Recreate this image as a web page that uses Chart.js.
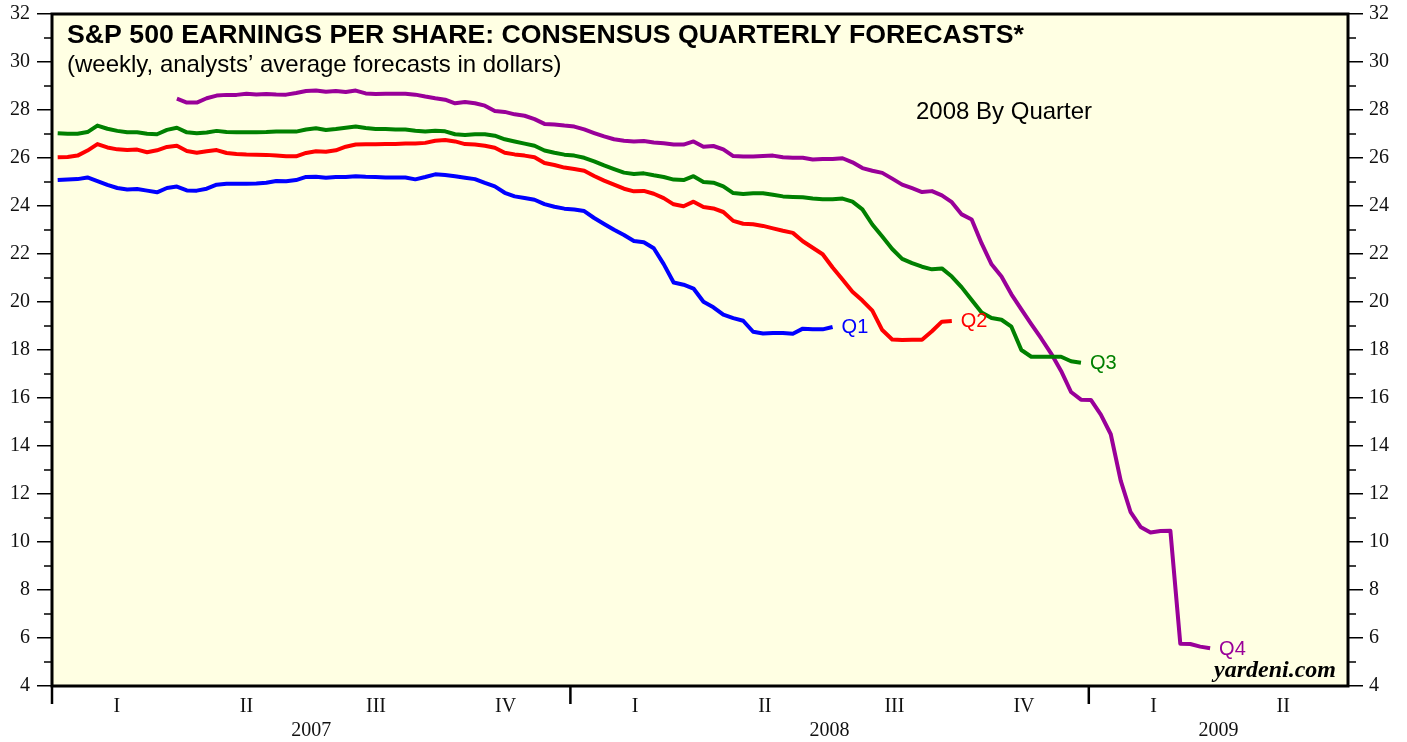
<!DOCTYPE html>
<html>
<head>
<meta charset="utf-8">
<script src="https://cdn.jsdelivr.net/npm/chart.js@4.4.0/dist/chart.umd.min.js"></script>
<style>
  html, body { margin: 0; padding: 0; background: #fff; }
</style>
</head>
<body>
<canvas id="epsChart" width="1407" height="742"></canvas>
<script>
// weekly consensus forecasts, dollars per share
const weeksPerYear = 52.18;
const firstWeek = 4 / 7;        // first Friday of Jan 2007
const q4FirstWeek = firstWeek + 12;

const q1 = [
  25.08, 25.10, 25.12, 25.19, 25.04, 24.88, 24.75, 24.69, 24.71, 24.64,
  24.57, 24.75, 24.81, 24.65, 24.64, 24.72, 24.89, 24.93, 24.93, 24.93,
  24.94, 24.97, 25.04, 25.03, 25.08, 25.21, 25.22, 25.18, 25.21, 25.21,
  25.24, 25.22, 25.21, 25.19, 25.19, 25.19, 25.11, 25.21, 25.32, 25.29,
  25.24, 25.18, 25.12, 24.96, 24.82, 24.55, 24.40, 24.33, 24.26, 24.08,
  23.97, 23.89, 23.85, 23.79, 23.50, 23.25, 23.01, 22.79, 22.54, 22.49,
  22.24, 21.58, 20.81, 20.72, 20.56, 20.01, 19.78, 19.47, 19.33, 19.22,
  18.76, 18.69, 18.71, 18.71, 18.68, 18.89, 18.86, 18.86, 18.96
];
const q2 = [
  26.03, 26.04, 26.10, 26.31, 26.58, 26.44, 26.36, 26.33, 26.35, 26.24,
  26.32, 26.46, 26.51, 26.29, 26.22, 26.28, 26.33, 26.21, 26.17, 26.15,
  26.14, 26.13, 26.10, 26.07, 26.07, 26.21, 26.28, 26.26, 26.32, 26.47,
  26.56, 26.57, 26.57, 26.58, 26.58, 26.60, 26.60, 26.63, 26.72, 26.75,
  26.69, 26.58, 26.56, 26.51, 26.43, 26.22, 26.15, 26.10, 26.03, 25.79,
  25.71, 25.60, 25.54, 25.47, 25.25, 25.06, 24.89, 24.72, 24.61, 24.63,
  24.51, 24.33, 24.07, 23.99, 24.18, 23.96, 23.90, 23.75, 23.38, 23.26,
  23.24, 23.17, 23.07, 22.97, 22.88, 22.53, 22.26, 21.99, 21.44, 20.94,
  20.43, 20.06, 19.64, 18.83, 18.44, 18.42, 18.43, 18.43, 18.78, 19.18,
  19.21
];
const q3 = [
  27.03, 27.01, 27.01, 27.08, 27.35, 27.22, 27.13, 27.07, 27.07, 27.01,
  26.99, 27.17, 27.26, 27.07, 27.03, 27.06, 27.13, 27.08, 27.07, 27.07,
  27.07, 27.08, 27.10, 27.10, 27.10, 27.19, 27.24, 27.17, 27.21, 27.26,
  27.31, 27.25, 27.21, 27.21, 27.19, 27.19, 27.14, 27.10, 27.14, 27.11,
  26.99, 26.96, 26.99, 26.99, 26.93, 26.78, 26.69, 26.60, 26.51, 26.31,
  26.22, 26.14, 26.10, 26.01, 25.86, 25.69, 25.54, 25.39, 25.33, 25.36,
  25.28, 25.21, 25.10, 25.08, 25.24, 25.00, 24.97, 24.82, 24.54, 24.50,
  24.53, 24.53, 24.47, 24.40, 24.38, 24.36, 24.31, 24.28, 24.28, 24.31,
  24.18, 23.86, 23.23, 22.73, 22.21, 21.80, 21.62, 21.47, 21.36, 21.40,
  21.06, 20.61, 20.08, 19.56, 19.33, 19.26, 18.97, 18.00, 17.72, 17.72,
  17.72, 17.72, 17.53, 17.47
];
const q4 = [
  28.47, 28.31, 28.31, 28.49, 28.60, 28.63, 28.63, 28.68, 28.65, 28.67,
  28.65, 28.64, 28.71, 28.79, 28.81, 28.76, 28.79, 28.75, 28.81, 28.69,
  28.67, 28.68, 28.68, 28.68, 28.64, 28.56, 28.49, 28.43, 28.28, 28.33,
  28.28, 28.18, 27.96, 27.92, 27.82, 27.76, 27.62, 27.42, 27.40, 27.35,
  27.31, 27.19, 27.04, 26.90, 26.78, 26.72, 26.69, 26.71, 26.65, 26.61,
  26.56, 26.56, 26.69, 26.47, 26.50, 26.36, 26.08, 26.06, 26.06, 26.08,
  26.10, 26.03, 26.01, 26.01, 25.94, 25.96, 25.96, 25.99, 25.82, 25.58,
  25.47, 25.38, 25.14, 24.89, 24.74, 24.58, 24.62, 24.44, 24.16, 23.65,
  23.44, 22.44, 21.57, 21.06, 20.32, 19.69, 19.08, 18.48, 17.85, 17.13,
  16.25, 15.93, 15.92, 15.31, 14.49, 12.56, 11.24, 10.63, 10.40, 10.46,
  10.47, 5.76, 5.75, 5.64, 5.57
];

const seriesNames = ['Q1', 'Q2', 'Q3', 'Q4'];
const seriesColors = ['#0000ff', '#ff0000', '#008000', '#990099'];
const quarterLabels = ['I', 'II', 'III', 'IV', 'I', 'II', 'III', 'IV', 'I', 'II'];
const yearLabels = ['2007', '2008', '2009'];
const yearTickWeeks = [0, weeksPerYear, 2 * weeksPerYear];
const yearLabelWeeks = [weeksPerYear / 2, weeksPerYear * 1.5, weeksPerYear * 2.25];

const toPoints = (arr, start) => arr.map((v, i) => ({ x: start + i, y: v }));

// x axis label ticks: quarter midpoints, plus year labels on a second line
const qw = weeksPerYear / 4;
const xTickLabels = new Map();
quarterLabels.forEach((q, i) => xTickLabels.set(+((i + 0.5) * qw).toFixed(3), q));
yearLabels.forEach((y, i) => xTickLabels.set(+yearLabelWeeks[i].toFixed(3), ['', y]));
const xTickValues = [...xTickLabels.keys()].sort((a, b) => a - b);

const BG = '#ffffe3';

const decor = {
  id: 'decor',
  beforeDraw(chart) {
    const { ctx, chartArea: a } = chart;
    ctx.save();
    ctx.fillStyle = '#fff';
    ctx.fillRect(0, 0, chart.width, chart.height);
    ctx.fillStyle = BG;
    ctx.fillRect(a.left, a.top, a.right - a.left, a.bottom - a.top);
    ctx.restore();
  },
  afterDatasetsDraw(chart) {
    const { ctx, chartArea: a, scales } = chart;
    ctx.save();

    // end-of-line labels
    ctx.font = '20px "Liberation Sans", Arial, sans-serif';
    ctx.textBaseline = 'middle';
    ctx.textAlign = 'left';
    chart.data.datasets.forEach((ds, i) => {
      const pts = chart.getDatasetMeta(i).data;
      const last = pts[pts.length - 1];
      ctx.fillStyle = seriesColors[i];
      ctx.fillText(seriesNames[i], last.x + 9, last.y + 1);
    });

    // titles
    ctx.fillStyle = '#000';
    ctx.textBaseline = 'alphabetic';
    ctx.font = 'bold 26.7px "Liberation Sans", Arial, sans-serif';
    ctx.fillText('S&P 500 EARNINGS PER SHARE: CONSENSUS QUARTERLY FORECASTS*', a.left + 15, 43);
    ctx.font = '24px "Liberation Sans", Arial, sans-serif';
    ctx.fillText('(weekly, analysts\u2019 average forecasts in dollars)', a.left + 15, 72);
    ctx.fillText('2008 By Quarter', 916, 119);
    ctx.font = 'italic bold 24px "Liberation Serif", "Times New Roman", serif';
    ctx.textAlign = 'right';
    ctx.fillText('yardeni.com', a.right - 12, 677);

    // frame
    ctx.strokeStyle = '#000';
    ctx.lineWidth = 3;
    ctx.strokeRect(a.left, a.top, a.right - a.left, a.bottom - a.top);

    // year separators below the x axis
    ctx.lineWidth = 2.5;
    yearTickWeeks.forEach(w => {
      const x = scales.x.getPixelForValue(w);
      ctx.beginPath();
      ctx.moveTo(x, a.bottom);
      ctx.lineTo(x, a.bottom + 18);
      ctx.stroke();
    });

    // minor ticks on both value axes
    ctx.lineWidth = 1.5;
    for (let v = 5; v < 32; v += 2) {
      const y = scales.y.getPixelForValue(v);
      ctx.beginPath();
      ctx.moveTo(a.left - 8, y);
      ctx.lineTo(a.left, y);
      ctx.moveTo(a.right, y);
      ctx.lineTo(a.right + 8, y);
      ctx.stroke();
    }
    ctx.restore();
  }
};

const yAxis = (position, width, pad) => ({
  position: position,
  min: 4,
  max: 32,
  border: { display: false },
  grid: { drawOnChartArea: false, drawTicks: true, tickLength: 15, color: '#000', lineWidth: 1.5 },
  ticks: {
    stepSize: 2,
    padding: pad,
    color: '#111',
    font: { family: '"Liberation Serif", "Times New Roman", serif', size: 20 }
  },
  afterFit: s => { s.width = width; s.paddingTop = 0; s.paddingBottom = 0; }
});

const ctx = document.getElementById('epsChart').getContext('2d');
const epsChart = new Chart(ctx, {
  type: 'line',
  data: {
    datasets: [
      { label: 'Q1', data: toPoints(q1, firstWeek) },
      { label: 'Q2', data: toPoints(q2, firstWeek) },
      { label: 'Q3', data: toPoints(q3, firstWeek) },
      { label: 'Q4', data: toPoints(q4, q4FirstWeek) }
    ].map((ds, i) => ({
      ...ds,
      borderColor: seriesColors[i],
      backgroundColor: seriesColors[i],
      borderWidth: 4,
      pointRadius: 0,
      tension: 0,
      borderJoinStyle: 'round',
      fill: false
    }))
  },
  options: {
    responsive: false,
    animation: false,
    layout: { padding: { top: 14, left: 0, right: 0, bottom: 0 } },
    plugins: {
      legend: { display: false },
      tooltip: { enabled: false }
    },
    scales: {
      x: {
        type: 'linear',
        min: 0,
        max: weeksPerYear * 2.5,
        border: { display: false },
        grid: { display: false, drawTicks: false },
        afterBuildTicks: s => { s.ticks = xTickValues.map(v => ({ value: v })); },
        ticks: {
          autoSkip: false,
          maxRotation: 0,
          padding: 9,
          color: '#111',
          font: { family: '"Liberation Serif", "Times New Roman", serif', size: 20, lineHeight: 1.2 },
          callback: v => xTickLabels.get(+(+v).toFixed(3)) ?? ''
        },
        afterFit: s => { s.height = 56; s.paddingLeft = 0; s.paddingRight = 0; }
      },
      y: yAxis('left', 52, 7),
      y2: yAxis('right', 59, 6)
    }
  },
  plugins: [decor]
});
</script>
</body>
</html>
